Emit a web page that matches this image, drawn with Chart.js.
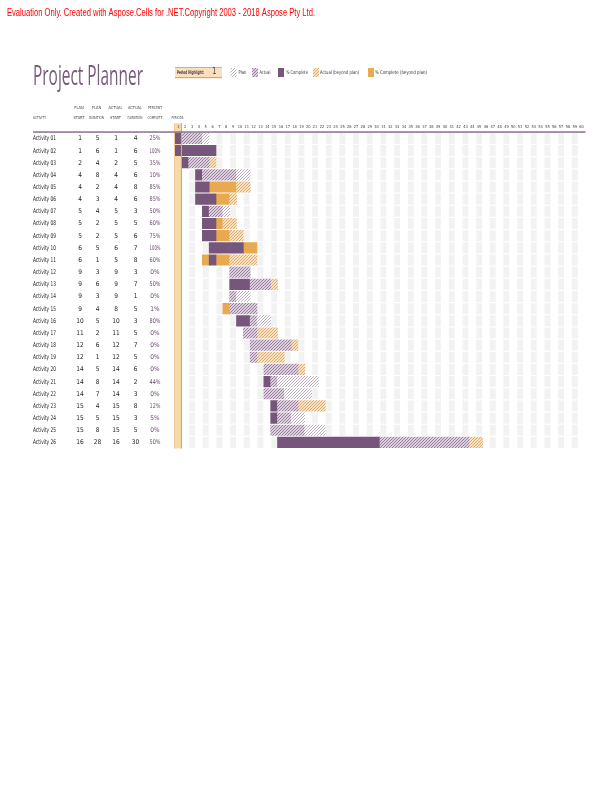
<!DOCTYPE html>
<html>
<head>
<meta charset="utf-8">
<script src="https://cdn.jsdelivr.net/npm/chart.js@4.4.0/dist/chart.umd.min.js"></script>
<style>
  html, body { margin: 0; padding: 0; background: #fff; }
  canvas { display: block; }
</style>
</head>
<body>
<canvas id="plannerChart" width="612" height="792" style="width:612px;height:792px"></canvas>
<script>
// table data
const activities = ['Activity 01','Activity 02','Activity 03','Activity 04','Activity 05','Activity 06','Activity 07',
  'Activity 08','Activity 09','Activity 10','Activity 11','Activity 12','Activity 13','Activity 14','Activity 15',
  'Activity 16','Activity 17','Activity 18','Activity 19','Activity 20','Activity 21','Activity 22','Activity 23',
  'Activity 24','Activity 25','Activity 26'];
const planStart      = [1, 1, 2, 4, 4, 4, 5, 5, 5, 6, 6, 9, 9, 9, 9, 10, 11, 12, 12, 14, 14, 14, 15, 15, 15, 16];
const planDuration   = [5, 6, 4, 8, 2, 3, 4, 2, 2, 5, 1, 3, 6, 3, 4, 5, 2, 6, 1, 5, 8, 7, 4, 5, 8, 28];
const actualStart    = [1, 1, 2, 4, 4, 4, 5, 5, 5, 6, 5, 9, 9, 9, 8, 10, 11, 12, 12, 14, 14, 14, 15, 15, 15, 16];
const actualDuration = [4, 6, 5, 6, 8, 6, 3, 5, 6, 7, 8, 3, 7, 1, 5, 3, 5, 7, 5, 6, 2, 3, 8, 3, 5, 30];
const percentComplete = [25, 100, 35, 10, 85, 85, 50, 60, 75, 100, 60, 0, 50, 0, 1, 80, 0, 0, 0, 0, 44, 0, 12, 5, 0, 50];
const periodLabels = [1,2,3,4,5,6,7,8,9,10,11,12,13,14,15,16,17,18,19,20,21,22,23,24,25,26,27,28,29,30,
  31,32,33,34,35,36,37,38,39,40,41,42,43,44,45,46,47,48,49,50,51,52,53,54,55,56,57,58,59,60];
const periodHighlight = 1;

const PURPLE = '#76567a';
const ORANGE = '#e9a94f';

function makeHatch(bg, fg) {
  const c = document.createElement('canvas');
  c.width = 3; c.height = 3;
  const g = c.getContext('2d');
  g.fillStyle = bg;
  g.fillRect(0, 0, 3, 3);
  g.strokeStyle = fg;
  g.lineWidth = 0.9;
  g.beginPath();
  g.moveTo(-1, 4); g.lineTo(4, -1);
  g.moveTo(-1, 1); g.lineTo(1, -1);
  g.moveTo(2, 4); g.lineTo(4, 2);
  g.stroke();
  return g.createPattern(c, 'repeat');
}

const styles = {
  plan:           { label: 'Plan', fill: makeHatch('#ffffff', '#b7a3ba') },
  actual:         { label: 'Actual', fill: makeHatch('#dccfdd', '#957899') },
  complete:       { label: '% Complete', fill: PURPLE },
  actualBeyond:   { label: 'Actual (beyond plan)', fill: makeHatch('#f8e2c4', '#dba463') },
  completeBeyond: { label: '% Complete (beyond plan)', fill: ORANGE }
};

// work out what every period cell of a row shows, then merge into runs
function cellType(i, p) {
  const inPlan = p >= planStart[i] && p < planStart[i] + planDuration[i];
  const inAct = p >= actualStart[i] && p < actualStart[i] + actualDuration[i];
  const doneEnd = Math.max(actualStart[i], actualStart[i] + actualDuration[i] * percentComplete[i] / 100 - 1);
  const done = percentComplete[i] > 0 && inAct && p <= doneEnd;
  if (done) return inPlan ? 'complete' : 'completeBeyond';
  if (inAct) return inPlan ? 'actual' : 'actualBeyond';
  if (inPlan) return 'plan';
  return null;
}

const runs = {};
activities.forEach((a, i) => {
  let cur = null, from = 0;
  const count = {};
  for (const p of periodLabels.concat([periodLabels.length + 1])) {
    const t = p <= periodLabels.length ? cellType(i, p) : null;
    if (t !== cur) {
      if (cur) {
        const k = count[cur] = (count[cur] || 0) + 1;
        runs[cur] = runs[cur] || [];
        while (runs[cur].length < k) runs[cur].push(new Array(activities.length).fill(null));
        runs[cur][k - 1][i] = [from - 1, p - 1];
      }
      cur = t; from = p;
    }
  }
});

const datasets = [];
['plan', 'actual', 'actualBeyond', 'complete', 'completeBeyond'].forEach(t => {
  (runs[t] || []).forEach(data => {
    datasets.push({
      label: styles[t].label,
      data,
      backgroundColor: styles[t].fill,
      borderWidth: 0,
      borderSkipped: false,
      grouped: false,
      barThickness: 10.5
    });
  });
});

function txt(ctx, s, x, y, font, color, align, maxW) {
  ctx.font = font;
  ctx.fillStyle = color;
  ctx.textAlign = align || 'left';
  ctx.textBaseline = 'middle';
  if (maxW) {
    const w = ctx.measureText(s).width;
    if (w > maxW) {
      ctx.save();
      const sx = maxW / w;
      ctx.translate(x, y);
      ctx.scale(sx, 1);
      ctx.fillText(s, 0, 0);
      ctx.restore();
      return;
    }
  }
  ctx.fillText(s, x, y);
}

const gridPlugin = {
  id: 'plannerGrid',
  beforeDatasetsDraw(chart) {
    const { ctx, scales: { x, y }, chartArea } = chart;
    const rowH = (chartArea.bottom - chartArea.top) / activities.length;
    ctx.save();
    ctx.fillStyle = '#f2f2f2';
    periodLabels.forEach(p => {
      if (p % 2 === 0 || p === periodHighlight) return;
      const x0 = x.getPixelForValue(p - 1), x1 = x.getPixelForValue(p);
      activities.forEach((a, i) => {
        const cy = y.getPixelForValue(i);
        ctx.fillRect(x0 + 0.5, cy - rowH / 2 + 0.6, x1 - x0 - 1, rowH - 1.2);
      });
    });
    // period highlight column
    const h0 = x.getPixelForValue(periodHighlight - 1), h1 = x.getPixelForValue(periodHighlight);
    ctx.fillStyle = '#f6d8ad';
    ctx.fillRect(h0 - 0.7, chartArea.top - 9, h1 - h0 + 0.7, chartArea.bottom - chartArea.top + 9);
    ctx.restore();
  },
  afterDatasetsDraw(chart) {
    const { ctx, scales: { x }, chartArea } = chart;
    const h0 = x.getPixelForValue(periodHighlight - 1), h1 = x.getPixelForValue(periodHighlight);
    ctx.save();
    ctx.strokeStyle = '#e8a646';
    ctx.lineWidth = 1.1;
    ctx.beginPath();
    ctx.moveTo(h1 - 0.4, chartArea.top - 9); ctx.lineTo(h1 - 0.4, chartArea.bottom);
    ctx.stroke();
    ctx.strokeStyle = '#f0c586';
    ctx.lineWidth = 0.8;
    ctx.beginPath();
    ctx.moveTo(h0 - 0.5, chartArea.top - 9); ctx.lineTo(h0 - 0.5, chartArea.bottom);
    ctx.stroke();
    ctx.restore();
  },
  afterDraw(chart) {
    const { ctx, scales: { x, y }, chartArea } = chart;
    const narrow = '"Liberation Sans Narrow", "DejaVu Sans Condensed", sans-serif';
    ctx.save();

    // evaluation banner
    txt(ctx, 'Evaluation Only. Created with Aspose.Cells for .NET.Copyright 2003 - 2018 Aspose Pty Ltd.',
      7, 12.5, '11px "Liberation Sans", Arial, sans-serif', '#ff0000', 'left', 308);

    // title
    txt(ctx, 'Project Planner', 33, 77, '27px "Open Sans", "DejaVu Sans", sans-serif', '#785a7c', 'left', 110);

    // period highlight box
    ctx.fillStyle = '#fae0bf';
    ctx.fillRect(175, 67, 47, 11);
    ctx.fillStyle = '#e8a646';
    ctx.fillRect(175, 67, 47, 0.9);
    ctx.fillRect(175, 77, 47, 1.2);
    txt(ctx, 'Period Highlight:', 177, 72.6, 'bold 5px ' + narrow, '#3a3a3a', 'left', 27);
    txt(ctx, String(periodHighlight), 212, 72.3, '8px ' + narrow, '#5a4a3a', 'left');

    // legend
    const legend = [
      ['plan', 230.5, 238.5, 8], ['actual', 252, 259.5, 11], ['complete', 278, 286, 22],
      ['actualBeyond', 313, 320, 39], ['completeBeyond', 368, 375, 52]
    ];
    legend.forEach(([t, bx, tx, mw]) => {
      ctx.fillStyle = styles[t].fill;
      ctx.fillRect(bx, 68, 6, 9);
      txt(ctx, styles[t].label, tx, 72.6, '5px ' + narrow, '#333333', 'left', mw);
    });

    // column headers
    const hdr = '4px ' + narrow;
    const hc = '#4a4a4a';
    txt(ctx, 'ACTIVITY', 33, 117.5, hdr, hc, 'left', 13);
    const cols = [[79, 'PLAN', 'START'], [96.5, 'PLAN', 'DURATION'], [115.5, 'ACTUAL', 'START'],
      [135, 'ACTUAL', 'DURATION'], [155, 'PERCENT', 'COMPLETE']];
    cols.forEach(([cx, a, b]) => {
      txt(ctx, a, cx, 107.8, hdr, hc, 'center', 14);
      txt(ctx, b, cx, 117.5, hdr, hc, 'center', 15);
    });
    txt(ctx, 'PERIODS', 177.5, 117.5, hdr, hc, 'center', 12);
    periodLabels.forEach(p => {
      const cx = (x.getPixelForValue(p - 1) + x.getPixelForValue(p)) / 2;
      txt(ctx, String(p), cx, 127, '4px ' + narrow, '#444444', 'center', 5.6);
    });

    // header rule
    ctx.fillStyle = '#8a6f8d';
    ctx.fillRect(33, chartArea.top - 1, 552.5, 1.5);

    // table rows
    const rowFont = '6.5px ' + narrow;
    activities.forEach((a, i) => {
      const cy = y.getPixelForValue(i) + 0.3;
      txt(ctx, a, 33, cy, rowFont, '#222222', 'left', 23);
      txt(ctx, String(planStart[i]), 80, cy, rowFont, '#222222', 'center');
      txt(ctx, String(planDuration[i]), 97.5, cy, rowFont, '#222222', 'center');
      txt(ctx, String(actualStart[i]), 116, cy, rowFont, '#222222', 'center');
      txt(ctx, String(actualDuration[i]), 135.5, cy, rowFont, '#222222', 'center');
      txt(ctx, percentComplete[i] + '%', 155, cy, rowFont, '#6a4a6e', 'center', 11);
    });
    ctx.restore();
  }
};

new Chart(document.getElementById('plannerChart').getContext('2d'), {
  type: 'bar',
  data: { labels: activities, datasets },
  options: {
    indexAxis: 'y',
    responsive: false,
    animation: false,
    layout: { padding: { left: 175, right: 27, top: 132.3, bottom: 343.5 } },
    scales: {
      x: { type: 'linear', min: 0, max: periodLabels.length, display: false },
      y: { type: 'category', display: false, offset: true }
    },
    plugins: {
      legend: { display: false },
      tooltip: { enabled: false },
      title: { display: false }
    }
  },
  plugins: [gridPlugin]
});
</script>
</body>
</html>
